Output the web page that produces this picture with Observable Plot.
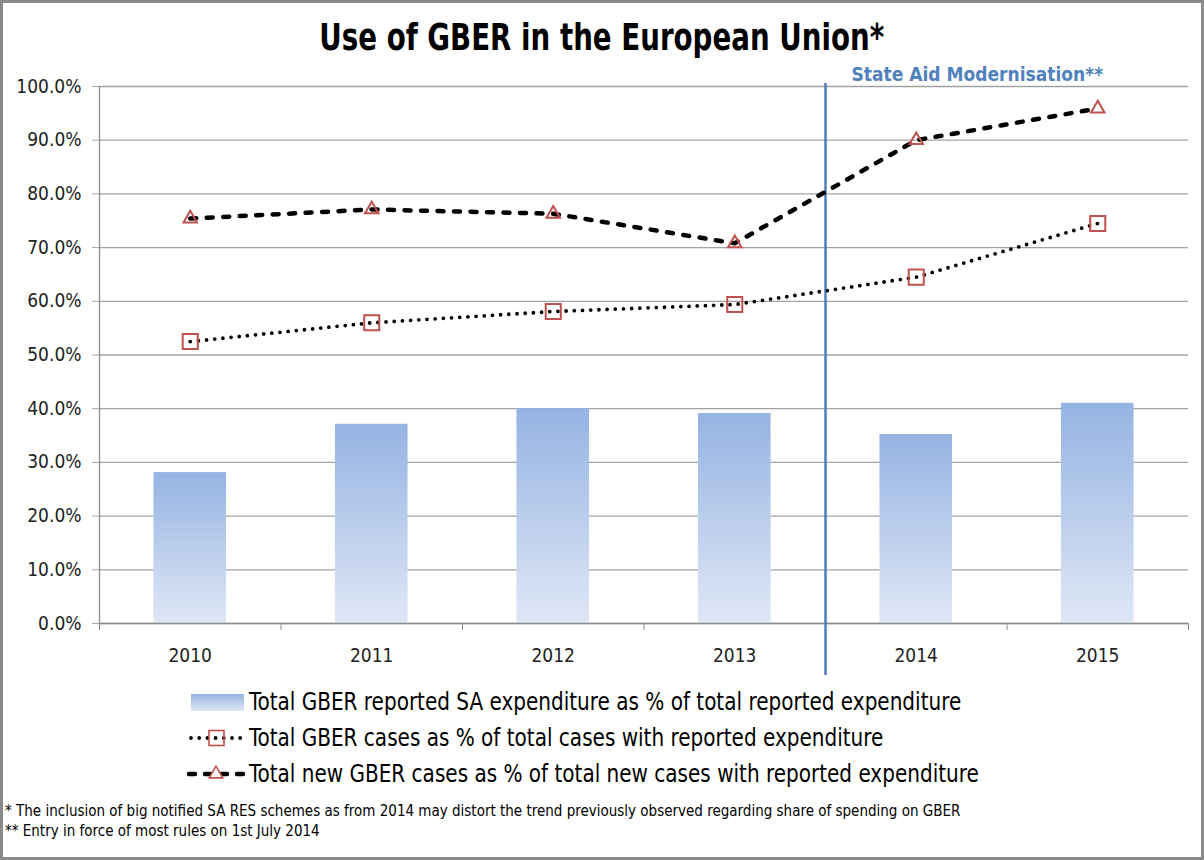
<!DOCTYPE html>
<html>
<head>
<meta charset="utf-8">
<script src="https://cdn.jsdelivr.net/npm/d3@7"></script>
<script src="https://cdn.jsdelivr.net/npm/@observablehq/plot@0.6"></script>
<style>
  html, body { margin: 0; padding: 0; background: #fff; }
  #page { position: relative; width: 1204px; height: 860px; overflow: hidden;
          font-family: "DejaVu Sans Condensed", "Liberation Sans", sans-serif; color: #000; }
  #frame { position: absolute; left: 0; top: 0; width: 1204px; height: 860px; box-sizing: border-box;
           border: 3px solid #8a8a8a; pointer-events: none; }
  #title { position: absolute; left: 0; width: 1204px; top: 13px; text-align: center;
           font-size: 38px; font-weight: bold; line-height: 48px; }
  #title span { display: inline-block; transform: scaleX(0.81); transform-origin: center; white-space: nowrap; }
  #chart { position: absolute; left: 0; top: 60px; }
  .leg { position: absolute; left: 186px; display: flex; align-items: center; font-size: 25px; line-height: 30px; white-space: nowrap; }
  .leg svg { margin-right: 3px; flex: none; }
  .leg span { display: inline-block; transform: scaleX(0.89); transform-origin: left center; }
  .note { position: absolute; left: 5px; font-size: 15px; line-height: 20px; white-space: nowrap; }
</style>
</head>
<body>
<div id="page">
  <div id="title"></div>
  <div id="chart"></div>
  <div id="legend"></div>
  <div id="notes"></div>
  <div id="frame"></div>
</div>
<script>
// ---- data ----
const years = [2010, 2011, 2012, 2013, 2014, 2015];
const expenditureShare = [28.1, 37.1, 40.0, 39.1, 35.2, 41.0];
const casesShare = [52.5, 56.0, 58.1, 59.4, 64.5, 74.5];
const newCasesShare = [75.4, 77.1, 76.3, 70.8, 90.0, 95.9];
const yTicks = [0, 10, 20, 30, 40, 50, 60, 70, 80, 90, 100];
const modernisation = [2013.5];
const modernisationLabel = "State Aid Modernisation**";
const titleText = "Use of GBER in the European Union*";
const seriesNames = [
  "Total GBER reported SA expenditure as % of total reported expenditure",
  "Total GBER cases as % of total cases with reported expenditure",
  "Total new GBER cases as % of total new cases with reported expenditure"
];
const footnotes = [
  "* The inclusion of big notified SA RES schemes as from 2014 may distort the trend previously observed regarding share of spending on GBER",
  "** Entry in force of most rules on 1st July 2014"
];

const rows = years.map((year, i) => ({
  year, exp: expenditureShare[i], cases: casesShare[i], newCases: newCasesShare[i]
}));
const boundaries = years.map(y => y - 0.5).concat([years[years.length - 1] + 0.5]);

const RED = "#c0504d";
const BLUE = "#4a7ebb";
const FONT = '"DejaVu Sans Condensed", "Liberation Sans", sans-serif';

// gradient definition as a custom mark
const defs = () => {
  const g = d3.create("svg:defs");
  const lg = g.append("linearGradient").attr("id", "barGrad")
    .attr("x1", 0).attr("y1", 0).attr("x2", 0).attr("y2", 1);
  lg.append("stop").attr("offset", "0%").attr("stop-color", "#95b3e3");
  lg.append("stop").attr("offset", "100%").attr("stop-color", "#dfe7f5");
  return g.node();
};

const chart = Plot.plot({
  width: 1200,
  height: 620,
  marginLeft: 99,
  marginRight: 12,
  marginTop: 26,
  marginBottom: 57,
  x: { domain: [boundaries[0], boundaries[boundaries.length - 1]] },
  y: { domain: [0, 100] },
  style: { fontFamily: FONT, fontSize: "19px", color: "#222", background: "transparent", overflow: "visible" },
  marks: [
    defs,
    Plot.gridY({ ticks: yTicks, stroke: "#a3a3a3", strokeOpacity: 1, strokeWidth: 1.3 }),
    Plot.axisY({ ticks: yTicks, tickSize: 7, tickPadding: 11, stroke: "#a3a3a3",
                 tickFormat: d => d.toFixed(1) + "%", label: null }),
    Plot.rectY(rows, { x1: d => d.year - 0.2, x2: d => d.year + 0.2, y: "exp", fill: "url(#barGrad)" }),
    Plot.ruleY([0], { stroke: "#8c8c8c", strokeWidth: 1.3 }),
    Plot.ruleX([boundaries[0]], { stroke: "#8c8c8c", strokeWidth: 1.3 }),
    Plot.axisX({ ticks: boundaries, tickSize: 7, tickFormat: () => "", stroke: "#8c8c8c", label: null }),
    Plot.axisX({ ticks: years, tickSize: 0, tickPadding: 25, tickFormat: d => String(d), label: null }),
    Plot.ruleX(modernisation, { stroke: BLUE, strokeWidth: 2.5, insetTop: -3, insetBottom: -52 }),
    Plot.text(modernisation, { x: d => d, y: () => 100, text: () => modernisationLabel, dx: 26, dy: -12,
      textAnchor: "start", fill: "#4f81bd", fontWeight: "bold", fontSize: 19 }),
    Plot.line(rows, { x: "year", y: "cases", stroke: "#000", strokeWidth: 3.8,
      strokeDasharray: "0,8.2", strokeLinecap: "round" }),
    Plot.line(rows, { x: "year", y: "newCases", stroke: "#000", strokeWidth: 4.5,
      strokeDasharray: "6,10.5", strokeLinecap: "round" }),
    Plot.dot(rows, { x: "year", y: "cases", symbol: "square", r: 8.5, stroke: RED, strokeWidth: 2, fill: "none" }),
    Plot.dot(rows, { x: "year", y: "newCases", symbol: "triangle", r: 5, stroke: RED, strokeWidth: 2, fill: "none" })
  ]
});
document.getElementById("chart").appendChild(chart);

const tspan = document.createElement("span");
tspan.textContent = titleText;
document.getElementById("title").appendChild(tspan);

// legend
const legend = document.getElementById("legend");
const legTops = [687, 723, 759];
seriesNames.forEach((name, i) => {
  const div = document.createElement("div");
  div.className = "leg";
  div.style.top = legTops[i] + "px";
  const sw = d3.create("svg").attr("width", 60).attr("height", 30);
  if (i === 0) {
    const df = sw.append("defs").append("linearGradient").attr("id", "legGrad")
      .attr("x1", 0).attr("y1", 0).attr("x2", 0).attr("y2", 1);
    df.append("stop").attr("offset", "0%").attr("stop-color", "#95b3e3");
    df.append("stop").attr("offset", "100%").attr("stop-color", "#dfe7f5");
    sw.append("rect").attr("x", 5).attr("y", 7).attr("width", 53).attr("height", 17).attr("fill", "url(#legGrad)");
  } else if (i === 1) {
    sw.append("line").attr("x1", 5).attr("x2", 56).attr("y1", 15).attr("y2", 15)
      .attr("stroke", "#000").attr("stroke-width", 3.8).attr("stroke-dasharray", "0,8.2").attr("stroke-linecap", "round");
    sw.append("rect").attr("x", 23).attr("y", 7.5).attr("width", 15).attr("height", 15)
      .attr("fill", "none").attr("stroke", RED).attr("stroke-width", 1.6);
  } else {
    sw.append("line").attr("x1", 3).attr("x2", 58).attr("y1", 15).attr("y2", 15)
      .attr("stroke", "#000").attr("stroke-width", 4.5).attr("stroke-dasharray", "6,10").attr("stroke-linecap", "round");
    sw.append("path").attr("d", d3.symbol(d3.symbolTriangle, Math.PI * 5 * 5)())
      .attr("transform", "translate(30,15)").attr("fill", "#fff").attr("stroke", RED).attr("stroke-width", 1.6);
  }
  div.appendChild(sw.node());
  const span = document.createElement("span");
  span.textContent = name;
  div.appendChild(span);
  legend.appendChild(div);
});

// footnotes
const notes = document.getElementById("notes");
const noteTops = [801, 821];
footnotes.forEach((t, i) => {
  const d = document.createElement("div");
  d.className = "note";
  d.style.top = noteTops[i] + "px";
  d.textContent = t;
  notes.appendChild(d);
});
</script>
</body>
</html>
